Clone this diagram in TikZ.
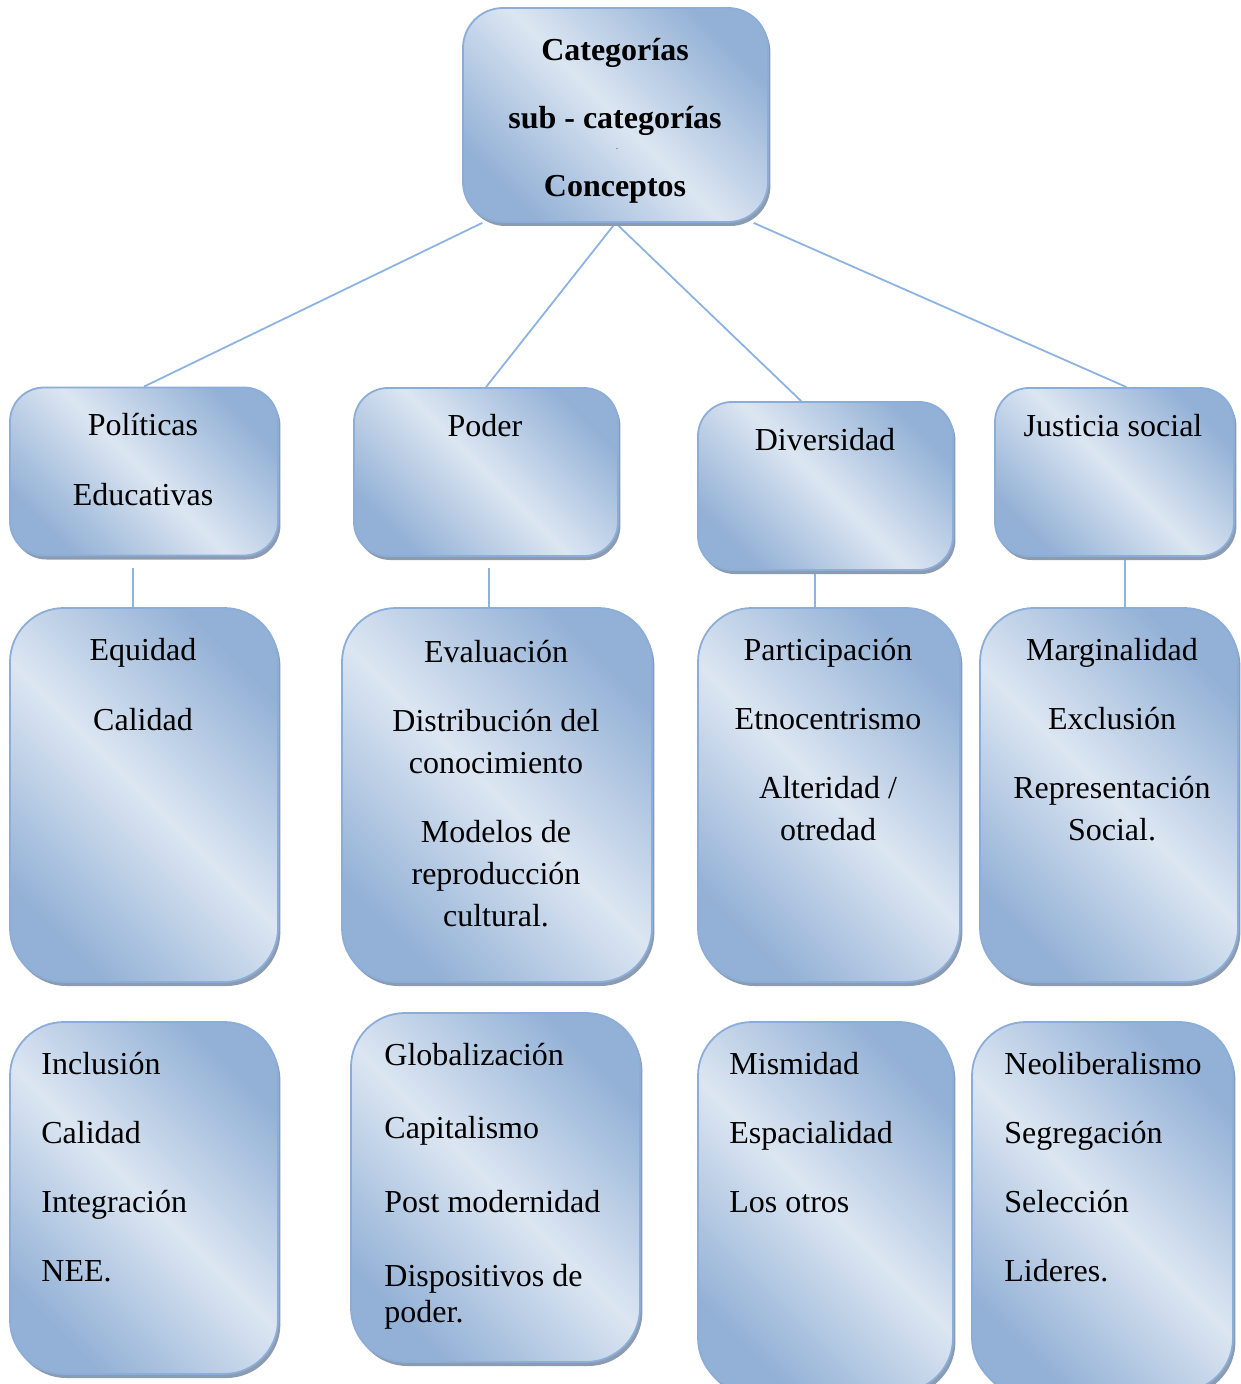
\documentclass[tikz,border=0pt]{standalone}
\usepackage{fontspec}
\setmainfont{Liberation Serif}
\usetikzlibrary{shadows,backgrounds}
\definecolor{boxdark}{HTML}{93B1D6}
\definecolor{boxlight}{HTML}{DCE6F2}
\definecolor{boxedge}{HTML}{8BADD9}
\definecolor{boxshadow}{HTML}{8D9BAF}
\definecolor{linkblue}{HTML}{8DB3E2}
\newcommand{\boxstrut}{\rule{0pt}{12pt}}

\begin{document}
\begin{tikzpicture}[x=0.5pt,y=-0.5pt,
	box/.style={draw=boxedge,line width=0.9pt,inner sep=0pt,
		left color=boxdark,right color=boxdark,middle color=boxlight,shading angle=-45,
		drop shadow={shadow xshift=1.2pt,shadow yshift=-2pt,fill=boxshadow,opacity=1}},
	headbox/.style={box,rounded corners=17pt,minimum height=84pt},
	tallbox/.style={box,rounded corners=27pt},
	txt/.style={inner sep=0pt,anchor=north,align=center,font=\fontsize{16}{21}\selectfont},
	ltxt/.style={txt,anchor=north west,align=left},
	link/.style={draw=linkblue,line width=0.9pt}]
	\useasboundingbox (0,0) rectangle (1240,1384);

	%top box
	\node[box,rounded corners=20pt,minimum width=152.5pt,minimum height=107pt] (top) at (615.5,115) {};
	\node[txt,font=\fontsize{16}{21}\selectfont\bfseries] (toptxt) at (615,36)
		{\boxstrut Categorías\\[13pt] sub - categorías\\[13pt] Conceptos};
	\node[inner sep=0pt,font=\fontsize{4}{4}\selectfont] (topdot) at (617,149) {.}; %small dot

	%categories
	\node[headbox,minimum width=134pt] (pol) at (144,471.5) {};
	\node[headbox,minimum width=132pt] (pod) at (486,472) {};
	\node[headbox,minimum width=127.5pt] (div) at (825.5,486) {};
	\node[headbox,minimum width=119.5pt] (jus) at (1114.5,472) {};
	\node[txt] (poltxt) at (143,411) {\boxstrut Políticas\\[14pt] Educativas};
	\node[txt] (podtxt) at (485,412) {\boxstrut Poder};
	\node[txt] (divtxt) at (825,426) {\boxstrut Diversidad};
	\node[txt] (justxt) at (1113,412) {\boxstrut Justicia social};

	%sub-categories
	\node[tallbox,minimum width=134pt,minimum height=187pt] (equ) at (144,795) {};
	\node[tallbox,minimum width=155pt,minimum height=187pt] (eva) at (497,795) {};
	\node[tallbox,minimum width=131pt,minimum height=187pt] (par) at (829,795) {};
	\node[tallbox,minimum width=129pt,minimum height=187pt] (mar) at (1109,795) {};
	\node[txt] (equtxt) at (143,636) {\boxstrut Equidad\\[14pt] Calidad};
	\node[txt] (evatxt) at (496,638)
		{\boxstrut Evaluación\\[13.5pt] Distribución del\\ conocimiento\\[13.5pt]
		 Modelos de\\ reproducción\\ cultural.};
	\node[txt] (partxt) at (828,636)
		{\boxstrut Participación\\[13.5pt] Etnocentrismo\\[13.5pt] Alteridad /\\ otredad};
	\node[txt] (martxt) at (1112,636)
		{\boxstrut Marginalidad\\[13.5pt] Exclusión\\[13.5pt] Representación\\ Social.};

	%concepts
	\node[tallbox,minimum width=134pt,minimum height=176pt] (inc) at (144,1198) {};
	\node[tallbox,minimum width=144.5pt,minimum height=174.5pt] (glo) at (495.5,1187.5) {};
	\node[tallbox,minimum width=127.5pt,minimum height=185pt] (mis) at (825.5,1207) {};
	\node[tallbox,minimum width=130.5pt,minimum height=185pt] (neo) at (1102.5,1207) {};
	\node[ltxt] (inctxt) at (41,1050)
		{\boxstrut Inclusión\\[13.5pt] Calidad\\[13.5pt] Integración\\[13.5pt] NEE.};
	\node[ltxt] (glotxt) at (384,1041)
		{\boxstrut Globalización\\[15.5pt] Capitalismo\\[16pt] Post modernidad\\[16pt]
		 Dispositivos de\\[-3pt] poder.};
	\node[ltxt] (mistxt) at (729,1050)
		{\boxstrut Mismidad\\[13.5pt] Espacialidad\\[13.5pt] Los otros};
	\node[ltxt] (neotxt) at (1004,1050)
		{\boxstrut Neoliberalismo\\[13.5pt] Segregación\\[13.5pt] Selección\\[13.5pt] Lideres.};

	%connectors
	\coordinate (polfoot) at (133,568);
	\coordinate (podfoot) at (489,568);
	\coordinate (divfoot) at (815,570);
	\coordinate (jusfoot) at (1125,556);
	\begin{scope}[on background layer]
		\draw[link] (top.219.8) -- (pol.north); %Politicas
		\draw[link] (top.south) -- (pod.north); %Poder
		\draw[link] (top.south) -- (div.106.9); %Diversidad
		\draw[link] (top.322.5) -- (jus.82.9); %Justicia
		\draw[link] (polfoot) -- (polfoot |- equ.north);
		\draw[link] (podfoot) -- (podfoot |- eva.north);
		\draw[link] (divfoot) -- (divfoot |- par.north);
		\draw[link] (jusfoot) -- (jusfoot |- mar.north);
	\end{scope}
\end{tikzpicture}
\end{document}
